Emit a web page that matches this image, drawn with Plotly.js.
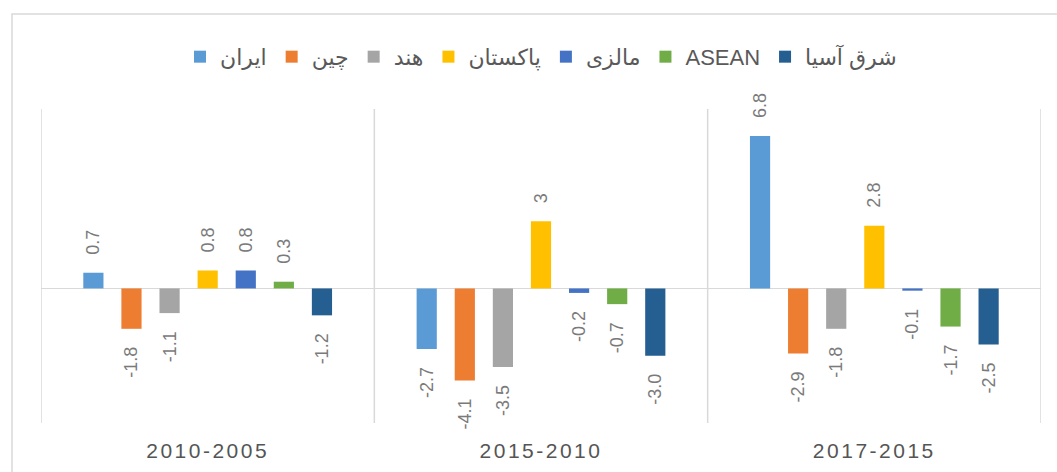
<!DOCTYPE html>
<html>
<head>
<meta charset="utf-8">
<script src="https://cdn.plot.ly/plotly-3.0.1.min.js"></script>
<style>
html,body{margin:0;padding:0;background:#fff;}
#chart{width:1057px;height:472px;}
.xtick text{letter-spacing:2.5px;}
</style>
</head>
<body>
<div id="chart"></div>
<script>
const categories = ["2010-2005", "2015-2010", "2017-2015"];
const seriesNames = ["ایران", "چین", "هند", "پاکستان", "مالزی", "ASEAN", "شرق آسیا"];
const iran     = [0.7, -2.7, 6.8];
const china    = [-1.8, -4.1, -2.9];
const india    = [-1.1, -3.5, -1.8];
const pakistan = [0.8, 3, 2.8];
const malaysia = [0.8, -0.2, -0.1];
const asean    = [0.3, -0.7, -1.7];
const eastAsia = [-1.2, -3.0, -2.5];
const labelIran     = ["0.7", "-2.7", "6.8"];
const labelChina    = ["-1.8", "-4.1", "-2.9"];
const labelIndia    = ["-1.1", "-3.5", "-1.8"];
const labelPakistan = ["0.8", "3", "2.8"];
const labelMalaysia = ["0.8", "-0.2", "-0.1"];
const labelAsean    = ["0.3", "-0.7", "-1.7"];
const labelEastAsia = ["-1.2", "-3.0", "-2.5"];

const values = [iran, china, india, pakistan, malaysia, asean, eastAsia];
const labels = [labelIran, labelChina, labelIndia, labelPakistan, labelMalaysia, labelAsean, labelEastAsia];
const colors = ["#5B9BD5", "#ED7D31", "#A5A5A5", "#FFC000", "#4472C4", "#70AD47", "#255E91"];

const pad = "\u00a0\u00a0\u00a0";
const traces = seriesNames.map((name, i) => ({
  type: "bar",
  name: name,
  x: categories,
  y: values[i],
  text: labels[i].map((t, j) => values[i][j] >= 0 ? pad + t : t + pad),
  textposition: "outside",
  textangle: -90,
  constraintext: "none",
  cliponaxis: false,
  textfont: {family: "Liberation Sans, Arial, sans-serif", size: 18, color: "#7a7a7a"},
  marker: {color: colors[i], line: {width: 0}},
  hoverinfo: "none"
}));

const sepStyle = {color: "#d9d9d9", width: 1.5};
const shapes = [-0.5, 0.5, 1.5, 2.5].map(v => ({
  type: "line", xref: "x", yref: "paper", x0: v, x1: v, y0: 0, y1: 1, line: sepStyle, layer: "below"
}));
shapes.push({
  type: "rect", xref: "paper", yref: "paper",
  x0: -0.029, x1: 1.2, y0: -0.4, y1: 1.3025,
  line: {color: "#d9d9d9", width: 1.5}, fillcolor: "rgba(0,0,0,0)", layer: "below"
});

const layout = {
  width: 1057, height: 472,
  margin: {l: 41, r: 16, t: 109, b: 49},
  paper_bgcolor: "#ffffff", plot_bgcolor: "#ffffff",
  font: {family: "Liberation Sans, DejaVu Sans, Arial, sans-serif", color: "#595959"},
  barmode: "group",
  bargap: 0.2,
  bargroupgap: 0.47,
  showlegend: true,
  legend: {
    orientation: "h", x: 0.5, xanchor: "center", y: 1.166, yanchor: "middle",
    font: {family: "Liberation Sans, DejaVu Sans, Arial, sans-serif", size: 22, color: "#595959"},
    traceorder: "normal", itemclick: false, itemdoubleclick: false
  },
  xaxis: {
    type: "category", range: [-0.5, 2.5], showgrid: false, showline: false, zeroline: false,
    ticks: "", ticklabelstandoff: 13,
    tickfont: {family: "Liberation Sans, Arial, sans-serif", size: 21, color: "#555555"},
    fixedrange: true
  },
  yaxis: {
    range: [-6, 8], showgrid: false, showline: false, showticklabels: false, ticks: "",
    zeroline: true, zerolinecolor: "#d9d9d9", zerolinewidth: 1.5, fixedrange: true
  },
  shapes: shapes
};

Plotly.newPlot("chart", traces, layout, {displayModeBar: false, staticPlot: true});
</script>
</body>
</html>
